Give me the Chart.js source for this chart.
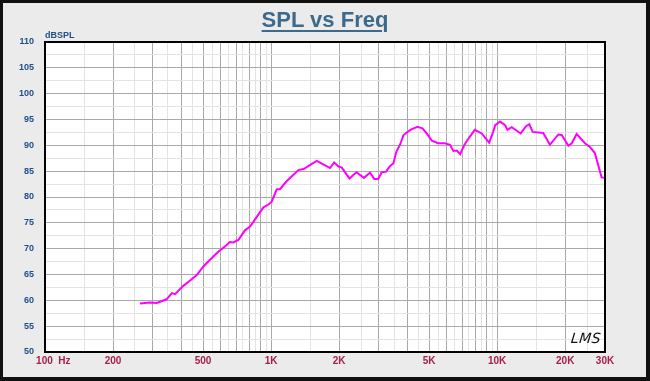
<!DOCTYPE html>
<html>
<head>
<meta charset="utf-8">
<script src="https://cdn.jsdelivr.net/npm/chart.js@4.4.1/dist/chart.umd.min.js"></script>
<style>
  html, body { margin: 0; padding: 0; background: #ebebeb; }
  #wrap { position: relative; width: 650px; height: 381px; overflow: hidden; background: #ebebeb; }
  #c { position: absolute; left: 0; top: 0; }
  #frame { position: absolute; left: 0; top: 0; width: 650px; height: 381px; box-sizing: border-box;
           border: 3px solid #111; border-right-width: 4px; border-bottom-width: 4px; pointer-events: none; }
  #title { position: absolute; left: 0; top: 7px; width: 650px; text-align: center;
           font: bold 22px "Liberation Sans", Arial, sans-serif; color: #3d6a8a;
           text-decoration: underline; text-decoration-thickness: 2px; text-underline-offset: 3px; }
  #ylab { position: absolute; left: 45px; top: 30px; font: bold 9px "Liberation Sans", Arial, sans-serif; color: #1f4e8c; }
  #lms { position: absolute; left: 571px; top: 330px; font: italic 14px "DejaVu Sans", sans-serif; color: #111; letter-spacing: 0.5px; transform: skewX(-6deg); }
</style>
</head>
<body>
<div id="wrap">
  <canvas id="c" width="650" height="381"></canvas>
  <div id="title">SPL vs Freq</div>
  <div id="ylab">dBSPL</div>
  <div id="lms">LMS</div>
  <div id="frame"></div>
</div>
<script>
// ---- data ----
const freqHz = [263, 291, 312, 345, 364, 376, 409, 440, 469, 501, 530, 584, 620, 657, 681, 717, 768, 808, 866, 925, 970, 1006,
  1060, 1095, 1168, 1250, 1321, 1393, 1490, 1593, 1700, 1823, 1900, 1988, 2055, 2222, 2388, 2575, 2739, 2862, 2980,
  3086, 3227, 3361, 3475, 3584, 3718, 3855, 4130, 4436, 4675, 4900, 5140, 5287, 5465, 5869, 6186, 6406, 6634, 6859,
  7168, 7550, 7966, 8547, 9222, 9600, 9810, 10300, 10843, 11110, 11600, 12710, 13420, 13880, 14360, 15990, 17120,
  18640, 19300, 20660, 21380, 22480, 24460, 25720, 27060, 28970, 30000];
const splDb = [59.4, 59.6, 59.5, 60.2, 61.4, 61.2, 62.8, 63.9, 64.9, 66.5, 67.6, 69.4, 70.3, 71.3, 71.2, 71.7, 73.6, 74.3, 76.2, 78.0, 78.5, 79.1,
  81.5, 81.5, 83.0, 84.2, 85.2, 85.4, 86.2, 87.0, 86.3, 85.6, 86.7, 85.9, 85.7, 83.6, 84.8, 83.7, 84.7, 83.5, 83.5,
  84.8, 84.9, 86.0, 86.5, 88.8, 90.1, 92.0, 93.0, 93.6, 93.3, 92.2, 90.9, 90.7, 90.4, 90.4, 90.1, 88.9, 89.0, 88.3,
  90.1, 91.6, 93.0, 92.3, 90.5, 92.6, 93.9, 94.6, 93.9, 93.0, 93.5, 92.3, 93.7, 94.1, 92.6, 92.4, 90.1,
  92.1, 92.0, 89.9, 90.4, 92.2, 90.4, 89.7, 88.5, 83.8, 83.7];

// x tick labels (value -> text)
const xTickValues = [100, 200, 500, 1000, 2000, 5000, 10000, 20000, 30000];
const xTickTexts  = ['      100  Hz', '200', '500', '1K', '2K', '5K', '10K', '20K', '30K'];
const yMin = 50, yMax = 110, yLabelStep = 5;

// grid positions: 1..9 and x.5 per decade
const xGrid = [];
for (const d of [100, 1000, 10000]) {
  for (let m = 1; m <= 9.5; m += 0.5) {
    const v = Math.round(m * d);
    if (v >= 100 && v <= 30000) xGrid.push(v);
  }
}
const isMajorX = v => { const d = Math.pow(10, Math.floor(Math.log10(v) + 1e-9)); return Math.abs(v / d - Math.round(v / d)) < 1e-6; };

const bgPlugin = {
  id: 'bg',
  beforeDraw(chart) {
    const { ctx, chartArea: a } = chart;
    ctx.save(); ctx.fillStyle = '#ffffff'; ctx.fillRect(a.left, a.top, a.right - a.left, a.bottom - a.top); ctx.restore();
  },
  afterDraw(chart) {
    const { ctx, chartArea: a } = chart;
    ctx.save(); ctx.strokeStyle = '#000'; ctx.lineWidth = 2;
    ctx.strokeRect(a.left, a.top, a.right - a.left, a.bottom - a.top); ctx.restore();
  }
};

new Chart(document.getElementById('c'), {
  type: 'line',
  data: {
    datasets: [{
      data: freqHz.map((f, i) => ({ x: f, y: splDb[i] })),
      borderColor: '#ff00ff',
      borderWidth: 2,
      pointRadius: 0,
      tension: 0,
      fill: false
    }]
  },
  options: {
    responsive: false,
    animation: false,
    layout: { padding: { top: 42, right: 45, bottom: 0, left: 0 } },
    plugins: { legend: { display: false }, tooltip: { enabled: false }, title: { display: false } },
    scales: {
      x: {
        type: 'logarithmic', min: 100, max: 30000,
        afterBuildTicks: s => { s.ticks = xGrid.map(v => ({ value: v })); },
        afterFit: s => { s.height = 29; },
        border: { display: false },
        grid: { drawTicks: false, lineWidth: 1,
          color: c => (c.tick && isMajorX(c.tick.value)) ? '#a9a9a9' : '#e3e3e3' },
        ticks: {
          autoSkip: false, maxRotation: 0, minRotation: 0, padding: 3,
          color: '#a3204f', font: { family: 'Liberation Sans', weight: 'bold', size: 10 },
          callback: v => { const i = xTickValues.indexOf(v); return i >= 0 ? xTickTexts[i] : ''; }
        }
      },
      y: {
        type: 'linear', min: yMin, max: yMax,
        afterFit: s => { s.width = 45; },
        border: { display: false },
        grid: { drawTicks: false, lineWidth: 1,
          color: c => (c.tick && c.tick.value % yLabelStep === 0) ? '#a9a9a9' : '#e3e3e3' },
        ticks: {
          stepSize: 2.5, padding: 11, autoSkip: false,
          color: '#1f4e8c', font: { family: 'Liberation Sans', weight: 'bold', size: 9 },
          callback: v => (v % yLabelStep === 0 ? String(v) : '')
        }
      }
    }
  },
  plugins: [bgPlugin]
});
</script>
</body>
</html>
